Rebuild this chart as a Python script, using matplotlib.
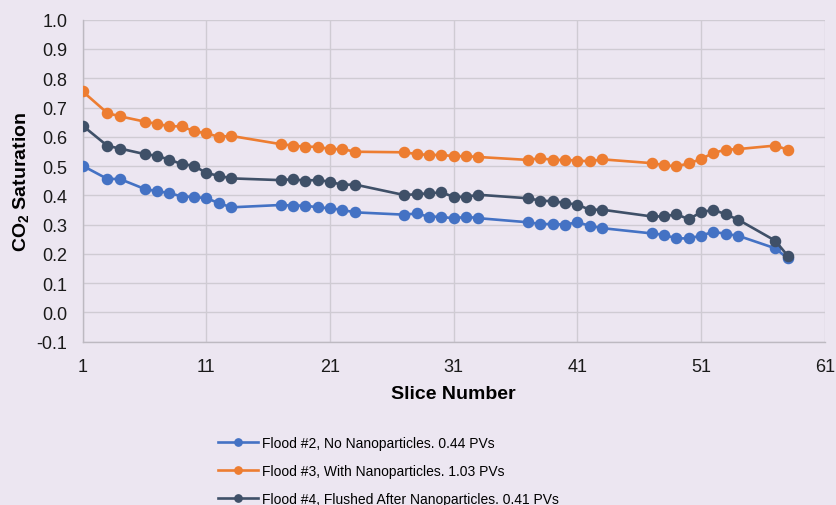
import matplotlib
matplotlib.use("Agg")
import matplotlib.pyplot as plt
from matplotlib.ticker import MultipleLocator, FormatStrFormatter

# Slice positions sampled along the core
slices = [1, 3, 4, 6, 7, 8, 9, 10, 11, 12, 13, 17, 18, 19, 20, 21, 22, 23,
          27, 28, 29, 30, 31, 32, 33, 37, 38, 39, 40, 41, 42, 43,
          47, 48, 49, 50, 51, 52, 53, 54, 57, 58]

# CO2 saturation per slice for each flood
flood2 = [0.501, 0.456, 0.456, 0.422, 0.414, 0.408, 0.396, 0.395, 0.390, 0.374, 0.359,
          0.367, 0.365, 0.365, 0.359, 0.356, 0.350, 0.342,
          0.334, 0.338, 0.327, 0.327, 0.321, 0.327, 0.322,
          0.308, 0.302, 0.302, 0.300, 0.308, 0.296, 0.288,
          0.270, 0.265, 0.253, 0.253, 0.262, 0.276, 0.268, 0.262, 0.219, 0.185]
flood3 = [0.755, 0.681, 0.670, 0.652, 0.644, 0.636, 0.636, 0.619, 0.612, 0.600, 0.603,
          0.575, 0.570, 0.566, 0.566, 0.558, 0.558, 0.549,
          0.547, 0.541, 0.538, 0.538, 0.534, 0.534, 0.531,
          0.521, 0.527, 0.521, 0.521, 0.519, 0.516, 0.523,
          0.510, 0.503, 0.499, 0.509, 0.524, 0.545, 0.556, 0.558, 0.570, 0.556]
flood4 = [0.638, 0.569, 0.560, 0.541, 0.535, 0.522, 0.507, 0.501, 0.476, 0.467, 0.458,
          0.452, 0.455, 0.450, 0.453, 0.446, 0.436, 0.437,
          0.401, 0.404, 0.407, 0.410, 0.395, 0.395, 0.402,
          0.390, 0.382, 0.380, 0.374, 0.368, 0.351, 0.351,
          0.328, 0.328, 0.335, 0.319, 0.342, 0.351, 0.335, 0.317, 0.245, 0.194]

labels = ["Flood #2, No Nanoparticles. 0.44 PVs",
          "Flood #3, With Nanoparticles. 1.03 PVs",
          "Flood #4, Flushed After Nanoparticles. 0.41 PVs"]
colors = ["#4472C4", "#ED7D31", "#3F5068"]

plt.rcParams["font.family"] = ["Liberation Sans", "DejaVu Sans"]
plt.rcParams["mathtext.fontset"] = "custom"
plt.rcParams["mathtext.rm"] = "Liberation Sans:bold"
plt.rcParams["mathtext.bf"] = "Liberation Sans:bold"
plt.rcParams["mathtext.default"] = "rm"

bg = "#ECE6F1"
fig = plt.figure(figsize=(8.36, 5.06), dpi=100, facecolor=bg)
ax = fig.add_axes([0.0989, 0.3227, 0.8876, 0.6364], facecolor=bg)

for ys, lab, c in zip([flood2, flood3, flood4], labels, colors):
    ax.plot(slices, ys, color=c, lw=1.9, marker="o", ms=7.3, label=lab, zorder=3)

ax.set_xlim(1, 61)
ax.set_ylim(-0.1, 1.0)
ax.set_xticks(range(1, 62, 10))
ax.yaxis.set_major_locator(MultipleLocator(0.1))
ax.yaxis.set_major_formatter(FormatStrFormatter("%.1f"))
ax.grid(True, color="#CFCBD3", lw=1.0, zorder=0)
ax.set_axisbelow(True)
for side in ["top", "right"]:
    ax.spines[side].set_visible(False)
for side in ["left", "bottom"]:
    ax.spines[side].set_color("#BDB9C1")
    ax.spines[side].set_linewidth(1.0)
ax.tick_params(length=0, labelsize=13, colors="#1A1A1A")
ax.tick_params(axis="x", pad=12)
ax.tick_params(axis="y", pad=11)

ax.set_xlabel("Slice Number", fontsize=14, fontweight="bold", labelpad=7)
ax.set_ylabel("CO$_2$ Saturation", fontsize=14, fontweight="bold", labelpad=4)

fig.legend(loc="upper left", bbox_to_anchor=(0.2604, 0.1358), frameon=False,
           fontsize=10, handlelength=2.9, handletextpad=0.27, markerscale=0.72,
           labelspacing=1.0, borderaxespad=0, borderpad=0)

fig.savefig("out.png", dpi=100, facecolor=bg)
